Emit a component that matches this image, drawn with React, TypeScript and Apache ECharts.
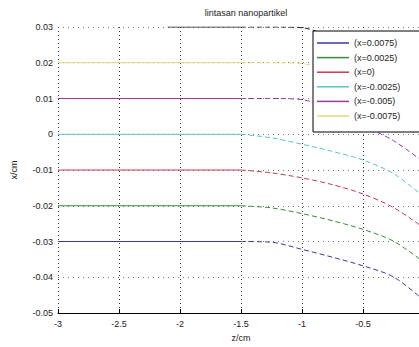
import React, { useEffect, useRef } from "react";
import * as echarts from "echarts";

const zValues = [-3, -2.5, -2, -1.5, -1.25, -1, -0.75, -0.5, -0.25, 0];
const blackZ = [-2.1, -2, -1.5, -1.25, -1, -0.75, -0.5, -0.25, 0];

const legendNames = ["(x=0.0075)", "(x=0.0025)", "(x=0)", "(x=-0.0025)", "(x=-0.005)", "(x=-0.0075)"];

const blueY = [-0.03, -0.03, -0.03, -0.03, -0.0302, -0.0322, -0.0344, -0.0368, -0.0399, -0.0465];
const greenY = [-0.02, -0.02, -0.02, -0.02, -0.0206, -0.0222, -0.0242, -0.0266, -0.0299, -0.0358];
const redY = [-0.01, -0.01, -0.01, -0.01, -0.0108, -0.0122, -0.0141, -0.0167, -0.0205, -0.0262];
const cyanY = [0, 0, 0, 0, -0.001, -0.0028, -0.0048, -0.0072, -0.011, -0.0175];
const purpleY = [0.01, 0.01, 0.01, 0.01, 0.01, 0.0097, 0.0068, 0.0025, -0.0018, -0.0078];
const yellowY = [0.02, 0.02, 0.02, 0.02, 0.02, 0.0198, 0.017, 0.013, 0.008, 0.002];
const blackY = [0.03, 0.03, 0.03, 0.03, 0.0298, 0.027, 0.023, 0.018, 0.011];

const xTickLabels = [-3, -2.5, -2, -1.5, -1, -0.5];
const yTicks = [-0.05, -0.04, -0.03, -0.02, -0.01, 0, 0.01, 0.02, 0.03];

const FONT = "Liberation Sans";

export default function App() {
  const ref = useRef<HTMLDivElement>(null);
  useEffect(() => {
    if (!ref.current) return;
    const chart = echarts.init(ref.current, null, { renderer: "svg" });
    const curves = [
      { name: legendNames[0], z: zValues, y: blueY, color: "#3a3a9c" },
      { name: legendNames[1], z: zValues, y: greenY, color: "#3a8a3a" },
      { name: legendNames[2], z: zValues, y: redY, color: "#c23a52" },
      { name: legendNames[3], z: zValues, y: cyanY, color: "#5cc4c4" },
      { name: legendNames[4], z: zValues, y: purpleY, color: "#9a3c9a" },
      { name: legendNames[5], z: zValues, y: yellowY, color: "#dcdc7a" },
      { name: "black", z: blackZ, y: blackY, color: "#222222" },
    ];
    const series: any[] = [];
    curves.forEach((c) => {
      const pts = c.z.map((z, i) => [z, c.y[i]]);
      const k = c.z.indexOf(-1.5);
      series.push({
        name: c.name,
        type: "line",
        data: pts.slice(0, k + 1),
        showSymbol: false,
        symbol: "none",
        lineStyle: { color: c.color, width: 1, type: "solid" },
        itemStyle: { color: c.color },
        z: 3,
      });
      series.push({
        name: c.name + "_d",
        type: "line",
        data: pts.slice(k),
        showSymbol: false,
        symbol: "none",
        smooth: 0.3,
        lineStyle: { color: c.color, width: 1, type: [5, 3] },
        itemStyle: { color: c.color },
        z: 3,
      });
    });
    chart.setOption({
      animation: false,
      backgroundColor: "#ffffff",
      title: {
        text: "lintasan nanopartikel",
        left: 241,
        textAlign: "center",
        top: 3,
        textStyle: { fontFamily: FONT, fontSize: 9, fontWeight: "normal", color: "#222" },
      },
      legend: {
        data: legendNames,
        orient: "vertical",
        left: 313,
        top: 31,
        padding: [7, 60, 11, 4],
        icon: "rect",
        itemWidth: 32,
        itemHeight: 1.5,
        itemGap: 4.6,
        backgroundColor: "#ffffff",
        borderColor: "#000000",
        borderWidth: 1,
        borderRadius: 0,
        textStyle: { fontFamily: FONT, fontSize: 9, color: "#222", lineHeight: 10, height: 10 },
      },
      grid: { left: 58, top: 27, width: 366, height: 288 },
      xAxis: {
        type: "value",
        min: -3,
        max: 0,
        interval: 0.5,
        name: "z/cm",
        nameLocation: "middle",
        nameGap: 20,
        nameTextStyle: { fontFamily: FONT, fontSize: 9, color: "#222" },
        axisLine: { show: true, onZero: false, lineStyle: { color: "#000", width: 1 } },
        axisTick: { show: true, inside: true, length: 4, lineStyle: { color: "#000" } },
        axisLabel: {
          fontFamily: FONT,
          fontSize: 9,
          color: "#222",
          margin: 6,
          formatter: (v: number) => {
            const t = xTickLabels.find((q) => Math.abs(q - v) < 1e-9);
            return t === undefined ? "" : String(t);
          },
        },
        splitLine: { show: true, lineStyle: { color: "#333", width: 1, type: [1, 3] } },
      },
      yAxis: {
        type: "value",
        min: -0.05,
        max: 0.03,
        interval: 0.01,
        name: "x/cm",
        nameLocation: "middle",
        nameGap: 40,
        nameRotate: 90,
        nameTextStyle: { fontFamily: FONT, fontSize: 9, color: "#222" },
        axisLine: { show: false },
        axisTick: { show: false },
        axisLabel: {
          fontFamily: FONT,
          fontSize: 9,
          color: "#222",
          margin: 5,
          formatter: (v: number) => {
            const t = yTicks.find((q) => Math.abs(q - v) < 1e-9);
            return t === undefined ? "" : String(+t.toFixed(2));
          },
        },
        splitLine: { show: true, lineStyle: { color: "#777", width: 1, type: [1, 4] } },
      },
      series,
    });
    return () => chart.dispose();
  }, []);
  return (
    <div
      ref={ref}
      style={{ position: "fixed", left: 0, top: 0, width: 440, height: 347, overflow: "hidden" }}
    />
  );
}
